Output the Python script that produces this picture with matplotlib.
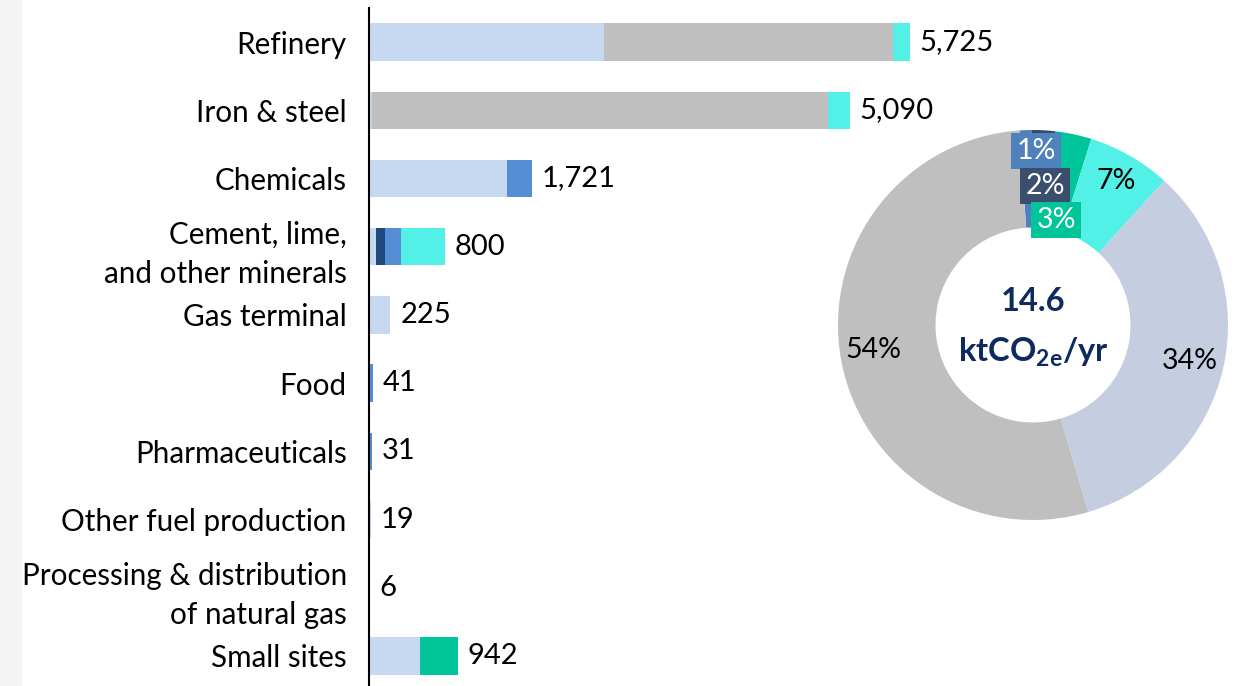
import matplotlib
matplotlib.use("Agg")
import matplotlib.pyplot as plt
from matplotlib.patches import Rectangle
import numpy as np

plt.rcParams['font.family'] = ['Lato', 'DejaVu Sans']
plt.rcParams['mathtext.fontset'] = 'custom'
plt.rcParams['mathtext.rm'] = 'Lato'
plt.rcParams['mathtext.bf'] = 'Lato:bold'

# ---------------- data ----------------
categories = ["Refinery", "Iron & steel", "Chemicals", "Cement, lime,\nand other minerals",
              "Gas terminal", "Food", "Pharmaceuticals", "Other fuel production",
              "Processing & distribution\nof natural gas", "Small sites"]
light_blue = [2487, 30, 1465, 75, 225, 0, 15, 19, 6, 545]
grey       = [3058, 4827, 0, 0, 0, 0, 0, 0, 0, 0]
navy       = [0, 0, 0, 95, 0, 0, 0, 0, 0, 0]
blue       = [0, 0, 256, 170, 0, 41, 16, 0, 0, 0]
cyan       = [180, 233, 0, 460, 0, 0, 0, 0, 0, 0]
green      = [0, 0, 0, 0, 0, 0, 0, 0, 0, 397]

donut_labels = ["1%", "2%", "3%", "7%", "34%", "54%"]
donut_values = [1, 2, 3, 7, 34, 54]
total_text = "14.6"

# ---------------- figure ----------------
W, H = 1238, 686
fig = plt.figure(figsize=(W / 100, H / 100), dpi=100)
fig.patches.append(Rectangle((0, 0), 22 / W, 1, transform=fig.transFigure,
                             facecolor="#F4F4F4", edgecolor="none", zorder=0))

ax = fig.add_axes([369 / W, -4 / H, 1 - 369 / W, 682 / H])
ax.set_facecolor("none")
series = [(light_blue, "#C6D9F1"), (grey, "#BFBFBF"), (navy, "#1F497D"),
          (blue, "#558ED5"), (cyan, "#52F0E6"), (green, "#00C49A")]
y = np.arange(len(categories))
left = np.zeros(len(categories))
for vals, col in series:
    v = np.array(vals, dtype=float)
    ax.barh(y, v, left=left, height=0.55, color=col, edgecolor="none")
    left += v
for yi, tot in zip(y, left):
    ax.text(tot + 105, yi, f"{int(round(tot)):,}", va="center", ha="left",
            fontsize=21, color="black")
ax.set_xlim(0, 9200)
ax.set_ylim(len(categories) - 0.5, -0.5)
ax.set_yticks(y)
ax.set_yticklabels(categories, fontsize=21.3, linespacing=1.46)
for lab in ax.get_yticklabels():
    lab.set_multialignment("right")
ax.tick_params(axis="y", length=0, pad=16)
ax.set_xticks([])
for s in ["top", "right", "bottom"]:
    ax.spines[s].set_visible(False)
ax.spines["left"].set_linewidth(1.5)
ax.spines["left"].set_color("black")

# ---------------- donut ----------------
cx, cy, R = 1033, 325, 195
half = 200
dax = fig.add_axes([(cx - half) / W, (H - cy - half) / H, 2 * half / W, 2 * half / H])
donut_colors = ["#4F7FBF", "#35486A", "#00C49A", "#52F0E6", "#C5CEE0", "#BFBFBF"]
dax.pie(donut_values, colors=donut_colors, startangle=94, counterclock=False,
        radius=1, wedgeprops=dict(width=0.5, edgecolor="none"))
lim = half / R
dax.set_xlim(-lim, lim)
dax.set_ylim(-lim, lim)
dax.set_aspect("equal")
dax.axis("off")

lab_pos = [(0.015, 0.892), (0.062, 0.713), (0.118, 0.538), (0.426, 0.738),
           (0.805, -0.185), (-0.82, -0.128)]
boxes = ["#4F81BD", "#3B4E6E", "#00C49A", None, None, None]
txtcol = ["white", "white", "white", "black", "black", "black"]
for lab, (px, py), bc, tc in zip(donut_labels, lab_pos, boxes, txtcol):
    kw = {}
    if bc:
        kw["bbox"] = dict(boxstyle="square,pad=0.18", facecolor=bc, edgecolor="none")
    dax.text(px, py, lab, ha="center", va="center", fontsize=20.5, color=tc, **kw)

dax.text(0, 0.12, total_text, ha="center", va="center", fontsize=23.5,
         fontweight="bold", color="#0E2A5E")
dax.text(0, -0.14, r"$\mathbf{ktCO_{2e}/yr}$", ha="center", va="center",
         fontsize=23.5, color="#0E2A5E")

fig.savefig("out.png", dpi=100)
